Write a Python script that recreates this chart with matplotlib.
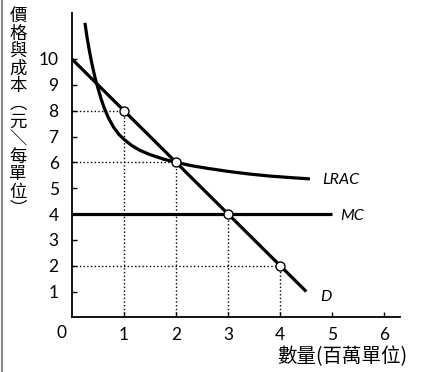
import matplotlib
matplotlib.use("Agg")
import matplotlib.pyplot as plt
from matplotlib.lines import Line2D

plt.rcParams['font.family'] = ['Lato', 'DejaVu Sans']

# demand curve D
d_q = [0, 4.5]
d_p = [10, 1]

# marginal cost MC
mc_q = [0, 5]
mc_p = [4, 4]

# long run average cost LRAC
lrac_q = [0.25, 0.29, 0.33, 0.37, 0.41, 0.45, 0.50, 0.56, 0.62, 0.70, 0.80, 0.90, 1.00,
          1.15, 1.30, 1.50, 1.75, 2.00, 2.30, 2.60, 3.00, 3.40, 3.80, 4.20, 4.57]
lrac_p = [11.40, 10.85, 10.38, 9.96, 9.58, 9.23, 8.87, 8.46, 8.11, 7.73, 7.36, 7.09, 6.89,
          6.65, 6.47, 6.30, 6.13, 6.00, 5.87, 5.77, 5.65, 5.55, 5.47, 5.41, 5.36]

# marked points on D
pt_q = [1, 2, 3, 4]
pt_p = [8, 6, 4, 2]

x_ticks = [1, 2, 3, 4, 5, 6]
y_ticks = [1, 2, 3, 4, 5, 6, 7, 8, 9, 10]

ylabel = '價格與成本︵元＼每單位︶'
xlabel = '數量(百萬單位)'

W, H = 421, 372
fig = plt.figure(figsize=(W / 100, H / 100), dpi=100)
ax = fig.add_axes([71.9 / W, (H - 317.4) / H, 328.1 / W, 304.4 / H])

# dotted guide lines
for q, p in zip(pt_q, pt_p):
    ax.plot([0, q], [p, p], color='black', linestyle=':', linewidth=1.0)
    ax.plot([q, q], [0, p], color='black', linestyle=':', linewidth=1.0)

ax.plot(lrac_q, lrac_p, color='black', linewidth=2.3, solid_capstyle='butt', solid_joinstyle='round')
ax.plot(mc_q, mc_p, color='black', linewidth=2.3, solid_capstyle='butt')
ax.plot(d_q, d_p, color='black', linewidth=2.3, solid_capstyle='butt')
ax.plot(pt_q, pt_p, linestyle='none', marker='o', markersize=6.5,
        markerfacecolor='white', markeredgecolor='black', markeredgewidth=1.0, zorder=5)

ax.text(4.80, 5.32, 'LRAC', fontsize=11.5, style='italic', va='center', ha='left')
ax.text(5.15, 3.92, 'MC', fontsize=11.5, style='italic', va='center', ha='left')
ax.text(4.77, 0.79, 'D', fontsize=11.5, style='italic', va='center', ha='left')

ax.set_xlim(0, 6.30)
ax.set_ylim(0, 11.78)
ax.set_xticks(x_ticks)
ax.set_yticks(y_ticks)
ax.tick_params(axis='both', direction='in', length=3.5, width=1.0, labelsize=12.5)
ax.tick_params(axis='x', pad=7)
ax.tick_params(axis='y', pad=9.5)
for s in ['top', 'right']:
    ax.spines[s].set_visible(False)
for s in ['left', 'bottom']:
    ax.spines[s].set_linewidth(1.3)

ax.annotate('0', xy=(0, 0), xytext=(-10, -16), textcoords='offset pixels',
            fontsize=12.5, ha='center', va='center')

# axis titles
fig.text(407 / W, 1 - 357 / H, xlabel, fontsize=14, ha='right', va='center',
         family=['Noto Sans CJK TC', 'DejaVu Sans'])
fig.text(18 / W, 1 - 7 / H, '\n'.join(ylabel), fontsize=12.5, ha='center', va='top',
         linespacing=0.97, family=['Noto Sans CJK TC', 'DejaVu Sans'])

# scan border on the left
fig.add_artist(Line2D([1.5 / W, 1.5 / W], [0, 1], color='#888888', linewidth=1.5))

fig.savefig('out.png', dpi=100)
